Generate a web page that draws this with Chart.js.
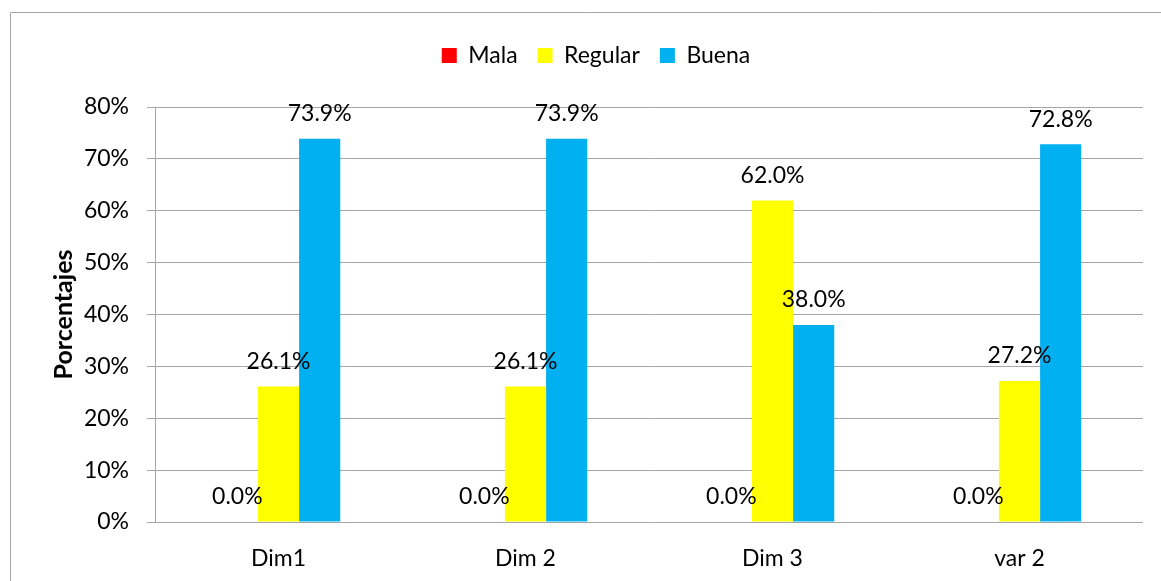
<!DOCTYPE html>
<html>
<head>
<meta charset="utf-8">
<script src="https://cdn.jsdelivr.net/npm/chart.js@4/dist/chart.umd.min.js"></script>
<style>
  html, body { margin: 0; padding: 0; background: #fff; }
  #wrap { width: 1161px; height: 581px; position: relative; }
</style>
</head>
<body>
<div id="wrap"><canvas id="chart" width="1161" height="581"></canvas></div>
<script>
const categories = ['Dim1', 'Dim 2', 'Dim 3', 'var 2'];
const mala = [0.0, 0.0, 0.0, 0.0];
const regular = [26.1, 26.1, 62.0, 27.2];
const buena = [73.9, 73.9, 38.0, 72.8];
const seriesNames = ['Mala', 'Regular', 'Buena'];

const gridGray = '#a6a6a6';
const fontFamily = 'Lato, "Open Sans", sans-serif';

// outer frame (only top and left edges show in the picture)
const framePlugin = {
  id: 'frame',
  beforeDraw(chart) {
    const ctx = chart.ctx;
    ctx.save();
    ctx.strokeStyle = gridGray;
    ctx.lineWidth = 1;
    ctx.beginPath();
    ctx.moveTo(10.5, 581);
    ctx.lineTo(10.5, 12.5);
    ctx.lineTo(1161, 12.5);
    ctx.stroke();
    ctx.restore();
  }
};

// value labels above each bar
const valueLabels = {
  id: 'valueLabels',
  afterDatasetsDraw(chart) {
    const ctx = chart.ctx;
    ctx.save();
    ctx.font = '23px ' + fontFamily;
    ctx.fillStyle = '#000';
    ctx.textAlign = 'center';
    ctx.textBaseline = 'middle';
    chart.data.datasets.forEach((ds, i) => {
      chart.getDatasetMeta(i).data.forEach((bar, j) => {
        ctx.fillText(ds.data[j].toFixed(1) + '%', bar.x, bar.y - 25);
      });
    });
    ctx.restore();
  }
};

// fixed legend height so the plot starts where it does in the picture
const legendHeight = {
  id: 'legendHeight',
  beforeInit(chart) {
    const fit = chart.legend.fit;
    chart.legend.fit = function () {
      fit.bind(chart.legend)();
      this.height = 83;
    };
  }
};

new Chart(document.getElementById('chart').getContext('2d'), {
  type: 'bar',
  data: {
    labels: categories,
    datasets: [
      { label: seriesNames[0], data: mala, backgroundColor: '#ff0000' },
      { label: seriesNames[1], data: regular, backgroundColor: '#ffff00' },
      { label: seriesNames[2], data: buena, backgroundColor: '#00b0f0' }
    ]
  },
  options: {
    responsive: false,
    animation: false,
    layout: { padding: { left: 49, right: 18, top: 24, bottom: 0 } },
    datasets: { bar: { categoryPercentage: 0.5, barPercentage: 1.0 } },
    plugins: {
      tooltip: { enabled: false },
      legend: {
        position: 'top',
        labels: {
          boxWidth: 15,
          boxHeight: 15,
          padding: 20,
          color: '#000',
          font: { family: fontFamily, size: 23 }
        }
      }
    },
    scales: {
      x: {
        grid: { display: false, drawTicks: false },
        border: { display: false },
        ticks: { color: '#000', padding: 23, font: { family: fontFamily, size: 23 } },
        afterFit(s) { s.height = 59; }
      },
      y: {
        min: 0,
        max: 80,
        grid: { color: gridGray, tickLength: 8 },
        border: { color: gridGray },
        ticks: {
          stepSize: 10,
          color: '#000',
          padding: 18,
          font: { family: fontFamily, size: 23 },
          callback: v => v + '%'
        },
        title: {
          display: true,
          text: 'Porcentajes',
          color: '#000',
          padding: { top: 0, bottom: 0 },
          font: { family: fontFamily, size: 25, weight: 'bold' }
        },
        afterFit(s) { s.width = 106; }
      }
    }
  },
  plugins: [framePlugin, valueLabels, legendHeight]
});
</script>
</body>
</html>
